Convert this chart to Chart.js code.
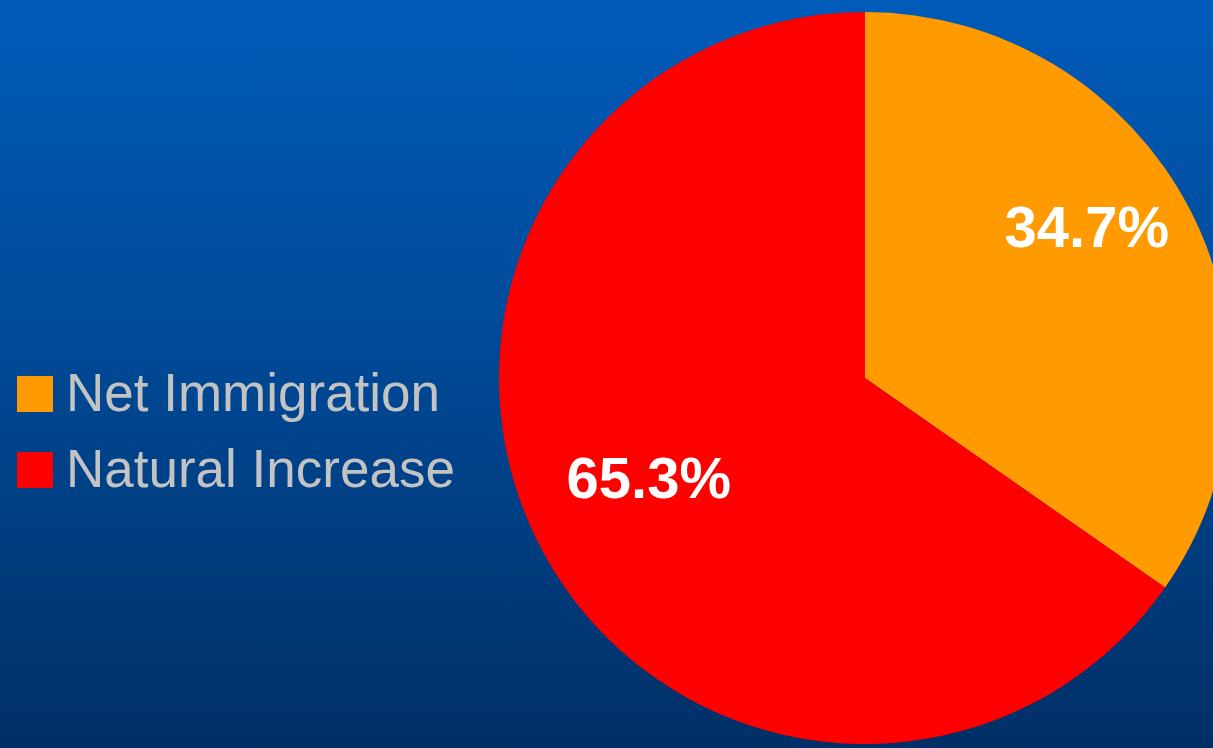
<!DOCTYPE html>
<html>
<head>
<meta charset="utf-8">
<script src="https://cdn.jsdelivr.net/npm/chart.js@4"></script>
<style>
  html, body { margin: 0; padding: 0; width: 1213px; height: 748px; overflow: hidden;
    background: linear-gradient(to bottom, #005bb9 0%, #004a98 45%, #002f66 100%); }
  #wrap { position: absolute; left: 0; top: 0; width: 1260px; height: 748px; }
  canvas { display: block; }
</style>
</head>
<body>
<div id="wrap"><canvas id="c" width="1260" height="748"></canvas></div>
<script>
const categories = ["Net Immigration", "Natural Increase"];
const shares = [34.7, 65.3];
const sliceColors = ["#ff9a00", "#ff0000"];

const labelPlacement = { angleFrac: [0.449, 0.51], radiusFrac: [0.73, 0.653] };

const sliceLabels = {
  id: 'sliceLabels',
  afterDatasetsDraw(chart) {
    const ctx = chart.ctx;
    const meta = chart.getDatasetMeta(0);
    ctx.save();
    ctx.fillStyle = '#ffffff';
    ctx.font = 'bold 58px "Liberation Sans", Arial, sans-serif';
    ctx.textAlign = 'center';
    ctx.textBaseline = 'middle';
    meta.data.forEach((arc, i) => {
      const p = arc.getProps(['x', 'y', 'startAngle', 'endAngle', 'outerRadius'], true);
      const a = p.startAngle + (p.endAngle - p.startAngle) * labelPlacement.angleFrac[i];
      const r = p.outerRadius * labelPlacement.radiusFrac[i];
      ctx.fillText(chart.data.datasets[0].data[i].toFixed(1) + '%', p.x + Math.cos(a) * r, p.y + Math.sin(a) * r + 2);
    });
    ctx.restore();
  }
};

const sideLegend = {
  id: 'sideLegend',
  afterDraw(chart) {
    const ctx = chart.ctx;
    ctx.save();
    ctx.font = '53px "Liberation Sans", Arial, sans-serif';
    ctx.textBaseline = 'alphabetic';
    ctx.textAlign = 'left';
    chart.data.labels.forEach((lab, i) => {
      const baseline = 411 + i * 76;
      ctx.fillStyle = chart.data.datasets[0].backgroundColor[i];
      ctx.fillRect(17, baseline - 35, 36, 36);
      ctx.fillStyle = '#c3c3c3';
      ctx.fillText(lab, 66, baseline);
    });
    ctx.restore();
  }
};

new Chart(document.getElementById('c'), {
  type: 'pie',
  data: {
    labels: categories,
    datasets: [{
      data: shares,
      backgroundColor: sliceColors,
      borderWidth: 0
    }]
  },
  options: {
    responsive: false,
    animation: false,
    layout: { padding: { left: 499, right: 29, top: 12, bottom: 4 } },
    plugins: { legend: { display: false }, tooltip: { enabled: false } }
  },
  plugins: [sliceLabels, sideLegend]
});
</script>
</body>
</html>
